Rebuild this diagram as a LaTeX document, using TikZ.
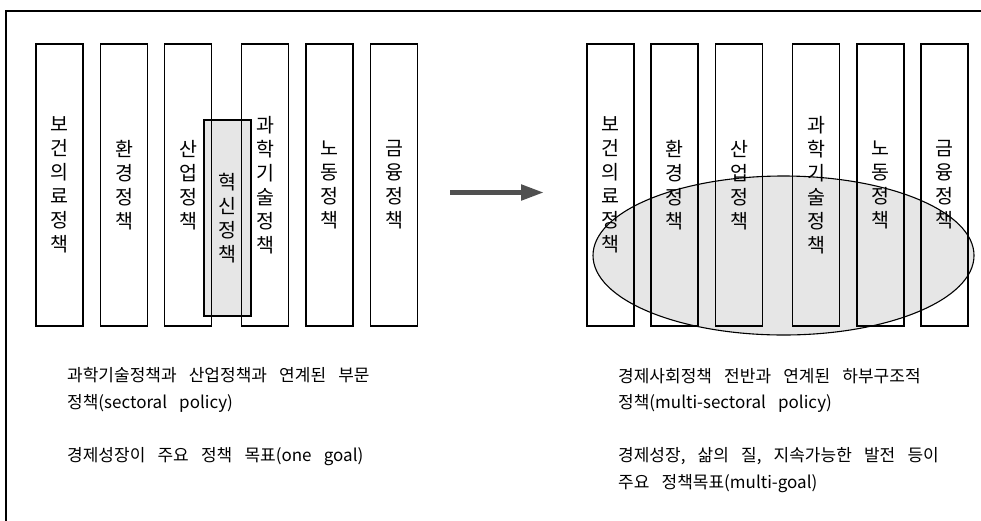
\documentclass[tikz,border=0pt]{standalone}
\usepackage{fontspec}
\setmainfont{Noto Sans CJK KR}
\newfontfamily\capfont[WordSpace=3.2]{Noto Sans CJK KR}
\usetikzlibrary{shapes.geometric,arrows.meta}
\definecolor{boxgray}{HTML}{E6E6E6}
\definecolor{arrowgray}{HTML}{505050}
\tikzset{
  bar/.style={draw=black, line width=1.3pt, minimum width=47pt, minimum height=282pt,
    inner sep=0pt, align=center, font=\fontsize{19.5}{24}\selectfont},
  hibox/.style={bar, fill=boxgray, minimum height=196pt},
  hiell/.style={ellipse, draw=black, line width=1.1pt, fill=boxgray, minimum width=381pt, minimum height=159pt, inner sep=0pt},
  caption/.style={anchor=base west, inner sep=0pt, font=\capfont\fontsize{17}{20}\selectfont},
  bigarrow/.style={-{Triangle[length=23pt,width=15pt]}, line width=5pt, draw=arrowgray},
  frame/.style={line width=2pt}
}
\begin{document}
\begin{tikzpicture}[x=1pt,y=-1pt]
\useasboundingbox (0,0) rectangle (981,520);
\coordinate (fbl) at (6,521);
\coordinate (ftl) at (6,10.6);
\coordinate (ftr) at (982,10.6);
\draw[frame] (fbl) -- (ftl) -- (ftr);
% left panel
\node[hibox] (inno) at (227.5,218) {혁\\신\\정\\책};
\node[bar] (l1) at (59.5,185) {보\\건\\의\\료\\정\\책};
\node[bar] (l2) at (124,185) {환\\경\\정\\책};
\node[bar] (l3) at (188,185) {산\\업\\정\\책};
\node[bar] (l4) at (265,185) {과\\학\\기\\술\\정\\책};
\node[bar] (l5) at (329.5,185) {노\\동\\정\\책};
\node[bar] (l6) at (394,185) {금\\융\\정\\책};
% arrow
\coordinate (as) at (450,192.5);
\coordinate (ae) at (544,192.5);
\draw[bigarrow] (as) -- (ae);
% right panel
\node[hiell] (ell) at (783.5,255.5) {};
\node[bar] (r1) at (610.5,185) {보\\건\\의\\료\\정\\책};
\node[bar] (r2) at (674.5,185) {환\\경\\정\\책};
\node[bar] (r3) at (739,185) {산\\업\\정\\책};
\node[bar] (r4) at (816,185) {과\\학\\기\\술\\정\\책};
\node[bar] (r5) at (880.5,185) {노\\동\\정\\책};
\node[bar] (r6) at (944.5,185) {금\\융\\정\\책};
% captions
\node[caption] (c1) at (67,381) {과학기술정책과 산업정책과 연계된 부문};
\node[caption] (c2) at (67,408) {정책(sectoral policy)};
\node[caption] (c3) at (67,461) {경제성장이 주요 정책 목표(one goal)};
\node[caption] (d1) at (618,382) {경제사회정책 전반과 연계된 하부구조적};
\node[caption] (d2) at (618,408) {정책(multi-sectoral policy)};
\node[caption] (d3) at (618,461) {경제성장, 삶의 질, 지속가능한 발전 등이};
\node[caption] (d4) at (618,488) {주요 정책목표(multi-goal)};
\end{tikzpicture}
\end{document}
